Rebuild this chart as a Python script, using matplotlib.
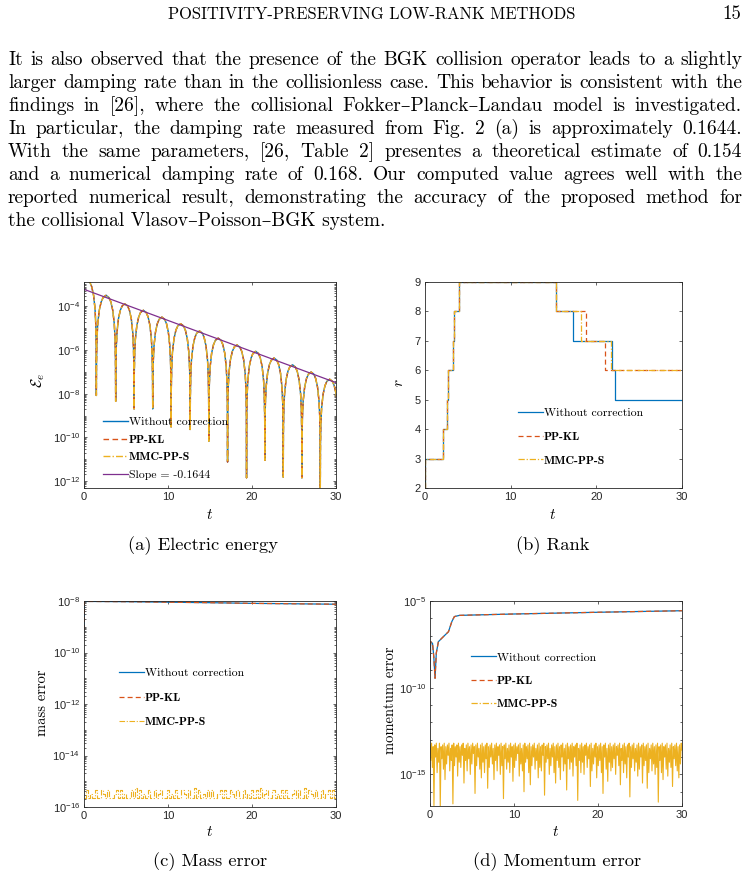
import numpy as np
import matplotlib
matplotlib.use('Agg')
import matplotlib.pyplot as plt
from matplotlib.ticker import LogLocator, FuncFormatter, NullFormatter
from matplotlib.lines import Line2D

# ---- page text ----
header = 'POSITIVITY-PRESERVING LOW-RANK METHODS'
page_no = '15'
body_lines = [
    'It is also observed that the presence of the BGK collision operator leads to a slightly',
    'larger damping rate than in the collisionless case.  This behavior is consistent with the',
    'findings in [26], where the collisional Fokker\u2013Planck\u2013Landau model is investigated.',
    'In particular, the damping rate measured from Fig. 2 (a) is approximately 0.1644.',
    'With the same parameters, [26, Table 2] presentes a theoretical estimate of 0.154',
    'and a numerical damping rate of 0.168.  Our computed value agrees well with the',
    'reported numerical result, demonstrating the accuracy of the proposed method for',
    'the collisional Vlasov\u2013Poisson\u2013BGK system.',
]
captions = ['(a) Electric energy', '(b) Rank', '(c) Mass error', '(d) Momentum error']
labels = ['Without correction', 'PP-KL', 'MMC-PP-S']

# ---- (a) electric energy: troughs, lobe peaks and a lobe shape ----
trough_t = [-0.75, 1.47, 3.77, 5.96, 8.18, 10.37, 12.64, 14.86, 17.09, 19.35, 21.53, 23.72, 25.94, 28.13, 30.35]
trough_E = [1e-9, 8.3e-9, 4.5e-9, 2.0e-9, 2.0e-9, 3.0e-10, 2.3e-10, 6.6e-11, 7.4e-12, 1.4e-12,
            8.9e-12, 1.5e-12, 1.4e-12, 4.0e-13, 1e-12]
peak_E = [1.6e-3, 3.2e-4, 1.3e-4, 6.6e-5, 3.2e-5, 1.6e-5, 7.4e-6, 3.5e-6, 1.7e-6, 8.7e-7,
          4.3e-7, 2.1e-7, 9.8e-8, 4.6e-8]
lobe_frac = [0, 0.01, 0.03, 0.07, 0.15, 0.25, 0.35, 0.5, 0.65, 0.75, 0.85, 0.93, 0.97, 0.99, 1]
lobe_drop = [0, -3.0, -2.05, -1.32, -0.69, -0.30, -0.10, 0, -0.10, -0.30, -0.69, -1.32, -2.05, -3.0, 0]
slope_t = [0, 30]
slope_E = [6.0e-4, 3.2e-8]

# ---- (b) rank ----
rank_t_wo = [0, 0.05, 2.14, 2.53, 2.65, 3.31, 3.43, 3.97, 15.27, 17.22, 21.82, 22.2, 30]
rank_wo = [2, 3, 4, 5, 6, 7, 8, 9, 8, 7, 6, 5, 5]
rank_t_kl = [0, 0.05, 2.14, 2.53, 2.65, 3.31, 3.43, 3.97, 15.27, 18.78, 21.04, 30]
rank_kl = [2, 3, 4, 5, 6, 7, 8, 9, 8, 7, 6, 6]
rank_t_mmc = [0, 0.05, 2.14, 2.53, 2.65, 3.31, 3.43, 3.97, 15.27, 18.19, 21.7, 30]
rank_mmc = [2, 3, 4, 5, 6, 7, 8, 9, 8, 7, 6, 6]

# ---- (c) mass error ----
mass_t = [0, 0.05, 0.1, 0.3, 1, 5, 10, 15, 20, 25, 30]
mass_err = [7.4e-10, 9.5e-9, 9.6e-9, 9.6e-9, 9.6e-9, 9.4e-9, 9.0e-9, 8.6e-9, 8.1e-9, 7.8e-9, 7.5e-9]
mass_mmc_e16 = [2.2, 4.4, 2.2, 3.3, 2.2, 4.4, 2.2, 2.2, 4.4, 3.3, 2.2, 4.4, 2.2, 2.2, 3.3, 4.4, 2.2, 4.4, 2.2, 3.3,
                2.2, 2.2, 4.4, 2.2, 5.5, 2.2, 4.4, 2.2, 3.3, 2.2, 4.4, 2.2, 2.2, 4.4, 2.2, 3.3, 4.4, 2.2, 2.2, 4.4,
                2.2, 3.3, 2.2, 4.4, 2.2, 2.2, 4.4, 3.3, 2.2, 4.4, 2.2, 2.2, 5.5, 2.2, 4.4, 2.2, 3.3, 2.2, 4.4, 2.2,
                4.4, 2.2, 2.2, 3.3, 4.4, 2.2, 4.4, 2.2, 2.2, 4.4, 3.3, 2.2, 4.4, 2.2, 2.2, 4.4, 2.2, 3.3, 2.2, 4.4,
                2.2, 4.4, 2.2, 5.5, 2.2, 3.3, 4.4, 2.2, 2.2, 4.4, 2.2, 3.3, 2.2, 4.4, 2.2, 4.4, 2.2, 2.2, 3.3, 4.4,
                2.2, 4.4, 2.2, 2.2, 5.5, 2.2, 4.4, 3.3, 2.2, 4.4, 2.2, 2.2, 4.4, 2.2, 3.3, 4.4, 2.2, 4.4, 2.2, 3.3]

# ---- (d) momentum error ----
mom_t = [0, 0.08, 0.3, 0.45, 0.6, 0.75, 1.0, 1.4, 2.2, 2.6, 2.9, 3.5, 5, 10, 20, 30]
mom_err = [1.05e-9, 4.5e-8, 3.6e-8, 6.3e-9, 3.5e-10, 1.0e-8, 4.5e-8, 7.1e-8, 1.7e-7, 6.5e-7,
           1.26e-6, 1.48e-6, 1.55e-6, 1.78e-6, 2.24e-6, 2.75e-6]
mom_mmc_log = [
    -13.3, -14.2, -13.2, -14.6, -13.4, -16.8, -13.3, -14.0, -13.2, -14.9,
    -13.5, -14.3, -13.2, -16.9, -13.4, -14.1, -13.3, -14.7, -13.2, -15.3,
    -13.4, -14.4, -13.3, -13.9, -13.2, -14.8, -13.5, -14.2, -13.3, -16.7,
    -13.2, -14.5, -13.4, -14.0, -13.3, -15.1, -13.2, -14.3, -13.4, -14.6,
    -13.3, -13.9, -13.2, -15.5, -13.5, -14.2, -13.3, -14.8, -13.2, -14.1,
    -13.4, -15.0, -13.3, -14.4, -13.2, -13.8, -13.4, -16.1, -13.3, -14.5,
    -13.2, -14.0, -13.5, -14.7, -13.3, -15.2, -13.2, -14.3, -13.4, -14.9,
    -13.3, -14.1, -13.2, -15.8, -13.4, -14.6, -13.3, -14.0, -13.2, -14.4,
    -13.5, -15.3, -13.3, -14.2, -13.2, -14.8, -13.4, -13.9, -13.3, -15.0,
    -13.2, -14.5, -13.4, -16.4, -13.3, -14.1, -13.2, -14.7, -13.5, -14.3,
    -13.3, -14.9, -13.2, -14.0, -13.4, -15.4, -13.3, -14.6, -13.2, -14.2,
    -13.4, -13.8, -13.3, -15.1, -13.2, -14.4, -13.5, -14.8, -13.3, -16.0,
    -13.2, -14.3, -13.4, -14.1, -13.3, -14.9, -13.2, -15.6, -13.4, -14.5,
    -13.3, -14.0, -13.2, -14.7, -13.5, -14.2, -13.3, -15.2, -13.2, -14.6,
    -13.4, -14.8, -13.3, -13.9, -13.2, -16.2, -13.4, -14.3, -13.3, -14.1,
    -13.2, -15.0, -13.5, -14.5, -13.3, -14.0, -13.2, -14.9, -13.4, -15.5,
    -13.3, -14.2, -13.2, -14.6, -13.4, -15.3, -13.3, -14.0, -13.2, -14.8,
    -13.5, -14.4, -13.3, -15.9, -13.2, -14.1, -13.4, -14.7, -13.3, -14.3,
    -13.2, -15.1, -13.4, -14.0, -13.3, -14.5, -13.2, -16.5, -13.5, -14.2,
    -13.3, -14.9, -13.2, -14.3, -13.4, -15.0, -13.3, -13.9, -13.2, -14.6,
    -13.4, -14.1, -13.3, -15.7, -13.2, -14.8, -13.5, -14.4, -13.3, -14.0,
    -13.2, -15.2, -13.4, -14.5, -13.3, -14.2, -13.2, -14.9, -13.4, -16.1,
    -13.3, -14.0, -13.2, -14.7, -13.5, -15.4, -13.3, -14.3, -13.2, -14.8,
    -13.4, -14.6, -13.3, -14.1, -13.2, -15.0, -13.4, -13.9, -13.3, -14.5,
    -13.2, -15.6, -13.5, -14.2, -13.3, -14.9, -13.2, -14.4, -13.4, -15.2,
    -13.3, -14.0, -13.2, -16.3, -13.4, -14.6, -13.3, -14.1, -13.2, -14.8,
    -13.5, -14.3, -13.3, -15.1, -13.2, -14.7, -13.4, -14.0, -13.3, -15.5,
    -13.2, -14.5, -13.4, -14.2, -13.3, -15.8, -13.2, -14.9, -13.5, -14.1,
    -13.3, -14.8, -13.2, -14.4, -13.4, -15.0, -13.3, -14.6, -13.2, -16.6,
    -13.4, -14.2, -13.3, -14.9, -13.2, -15.3, -13.4, -14.0, -13.3, -14.7,
    -13.2, -15.1, -13.5, -14.3, -13.3, -14.6, -13.2, -15.7, -13.4, -14.1,
    -13.3, -14.5, -13.2, -14.8, -13.4, -15.2, -13.3, -14.4, -13.2, -13.6,
]

BLUE, ORANGE, YELLOW, PURPLE = '#0072BD', '#D95319', '#EDB120', '#7E2F8E'
AXC = '#262626'
W, H = 749, 881

plt.rcParams['mathtext.fontset'] = 'custom'
plt.rcParams['mathtext.rm'] = 'Liberation Sans'
plt.rcParams['mathtext.it'] = 'Liberation Sans:italic'
plt.rcParams['font.family'] = ['Liberation Sans', 'DejaVu Sans']
SERIF = ['cmr10', 'DejaVu Serif']
BOLD = ['cmb10', 'DejaVu Serif']

fig = plt.figure(figsize=(W / 100, H / 100), dpi=100)
renderer = fig.canvas.get_renderer()


def px(x, y):
    return x / W, 1 - y / H


def justify(words, x0, x1, y, size):
    texts = [fig.text(*px(0, y), w, fontsize=size, family=SERIF, va='baseline') for w in words]
    widths = [t.get_window_extent(renderer).width for t in texts]
    gap = (x1 - x0 - sum(widths)) / (len(words) - 1)
    x = x0
    for t, w in zip(texts, widths):
        t.set_x(x / W)
        x += w + gap


fig.text(*px(372, 19), header, ha='center', va='baseline', fontsize=11.9, family=SERIF)
fig.text(*px(741, 19), page_no, ha='right', va='baseline', fontsize=13.5, family=SERIF)
for i, line in enumerate(body_lines):
    y = 65 + 23 * i
    if i < len(body_lines) - 1:
        justify(line.split(), 8, 742, y, 14)
    else:
        fig.text(*px(8, y), line, va='baseline', fontsize=14, family=SERIF)


def sci(v, pos):
    return r'$\mathregular{10^{%d}}$' % round(np.log10(v))


def style(ax, log=True, minor_subs=None):
    for s in ax.spines.values():
        s.set_color(AXC)
        s.set_linewidth(0.6)
    ax.tick_params(which='both', direction='in', top=True, right=True, colors=AXC,
                   labelsize=8, width=0.5, pad=3)
    ax.tick_params(which='major', length=2.5)
    ax.tick_params(which='minor', length=1.5)
    ax.set_xlim(0, 30)
    ax.set_xticks([0, 10, 20, 30])
    if log:
        ax.set_yscale('log')
        ax.yaxis.set_major_formatter(FuncFormatter(sci))
        ax.yaxis.set_minor_locator(LogLocator(base=10, subs=minor_subs, numticks=100))
        ax.yaxis.set_minor_formatter(NullFormatter())


def legend(ax, handles, x, y, spacing):
    leg = ax.legend(handles, [h.get_label() for h in handles], loc='upper left',
                    bbox_to_anchor=(x, y), frameon=False, borderpad=0, borderaxespad=0,
                    handlelength=2.1, handletextpad=0.1, labelspacing=spacing,
                    prop={'family': SERIF, 'size': 8.5})
    for t in leg.get_texts():
        if t.get_text() in ('PP-KL', 'MMC-PP-S'):
            t.set_fontfamily(BOLD)
    return leg


def add_axes(x0, y0, x1, y1):
    l, b = px(x0, y1)
    return fig.add_axes([l, b, (x1 - x0) / W, (y1 - y0) / H])


DASH = (0, (4, 2.5))
DASHDOT = (0, (5, 1.5, 1, 1.5))

# (a)
energy_t, energy_E = [], []
for i, p in enumerate(peak_E):
    a, b = trough_t[i], trough_t[i + 1]
    for f, d in zip(lobe_frac, lobe_drop):
        energy_t.append(a + f * (b - a))
        if f == 0:
            energy_E.append(trough_E[i])
        elif f == 1:
            energy_E.append(trough_E[i + 1])
        else:
            energy_E.append(p * 10 ** d)

ax = add_axes(84, 282, 336, 488)
style(ax, minor_subs=np.arange(1, 10))
h1, = ax.plot(energy_t, energy_E, color=BLUE, lw=1.0, label=labels[0])
h2, = ax.plot(energy_t, energy_E, color=ORANGE, lw=1.0, ls=DASH, label=labels[1])
h3, = ax.plot(energy_t, energy_E, color=YELLOW, lw=1.0, ls=DASHDOT, label=labels[2])
h4, = ax.plot(slope_t, slope_E, color=PURPLE, lw=0.9, label='Slope = -0.1644')
ax.set_ylim(4.8e-13, 1.3e-3)
ax.set_yticks([1e-12, 1e-10, 1e-8, 1e-6, 1e-4])
ax.yaxis.set_major_formatter(FuncFormatter(sci))
legend(ax, [h1, h2, h3, h4], 0.075, 0.345, 0.62)

# (b)
ax = add_axes(425, 282, 682, 488)
style(ax, log=False)
h1, = ax.plot(rank_t_wo, rank_wo, color=BLUE, lw=0.9, drawstyle='steps-post', label=labels[0])
h2, = ax.plot(rank_t_kl, rank_kl, color=ORANGE, lw=0.9, ls=DASH, drawstyle='steps-post', label=labels[1])
h3, = ax.plot(rank_t_mmc, rank_mmc, color=YELLOW, lw=0.9, ls=DASHDOT, drawstyle='steps-post', label=labels[2])
ax.set_ylim(2, 9)
ax.set_yticks(range(2, 10))
legend(ax, [h1, h2, h3], 0.362, 0.39, 1.15)

# (c)
ax = add_axes(84, 601, 336, 807)
style(ax, minor_subs=np.arange(1, 10))
mass_noise_t = np.linspace(0, 30, len(mass_mmc_e16))
h1, = ax.plot(mass_t, mass_err, color=BLUE, lw=0.9, label=labels[0])
h2, = ax.plot(mass_t, mass_err, color=ORANGE, lw=0.9, ls=DASH, label=labels[1])
h3, = ax.plot(mass_noise_t, np.array(mass_mmc_e16) * 1e-16, color=YELLOW, lw=0.8,
              ls=DASHDOT, drawstyle='steps-post', label=labels[2])
ax.set_ylim(1e-16, 1e-8)
ax.set_yticks([1e-16, 1e-14, 1e-12, 1e-10, 1e-8])
ax.yaxis.set_major_formatter(FuncFormatter(sci))
legend(ax, [h1, h2, h3], 0.139, 0.675, 1.2)

# (d)
ax = add_axes(430, 601, 682, 806)
style(ax, minor_subs=[1.0])
mom_noise_t = np.linspace(0, 30, len(mom_mmc_log))
ax.plot(mom_noise_t, 10.0 ** np.array(mom_mmc_log), color=YELLOW, lw=0.8)
h1, = ax.plot(mom_t, mom_err, color=BLUE, lw=0.9, label=labels[0])
h2, = ax.plot(mom_t, mom_err, color=ORANGE, lw=0.9, ls=DASH, label=labels[1])
h3 = Line2D([], [], color=YELLOW, lw=0.9, ls=DASHDOT, label=labels[2])
ax.set_ylim(1.5e-17, 1e-5)
ax.set_yticks([1e-15, 1e-10, 1e-5])
ax.yaxis.set_major_formatter(FuncFormatter(sci))
legend(ax, [h1, h2, h3], 0.163, 0.75, 1.1)

# axis labels and captions
for x, y in [(210, 515), (553, 515), (210, 832), (556, 832)]:
    fig.text(*px(x, y), '$t$', ha='center', va='center', fontsize=11, math_fontfamily='cm')
fig.text(*px(38, 380), r'$\mathcal{E}_e$', ha='center', va='center', rotation=90, fontsize=11,
         math_fontfamily='cm')
fig.text(*px(399, 383), '$r$', ha='center', va='center', rotation=90, fontsize=11, math_fontfamily='cm')
fig.text(*px(42, 703), 'mass error', ha='center', va='center', rotation=90, fontsize=10.5, family=SERIF)
fig.text(*px(390, 700), 'momentum error', ha='center', va='center', rotation=90, fontsize=10.5, family=SERIF)
for (x, y), c in zip([(203, 546), (553, 546), (210, 862), (557, 862)], captions):
    fig.text(*px(x, y), c, ha='center', va='center', fontsize=13.3, family=SERIF)

fig.savefig('out.png', dpi=100)
